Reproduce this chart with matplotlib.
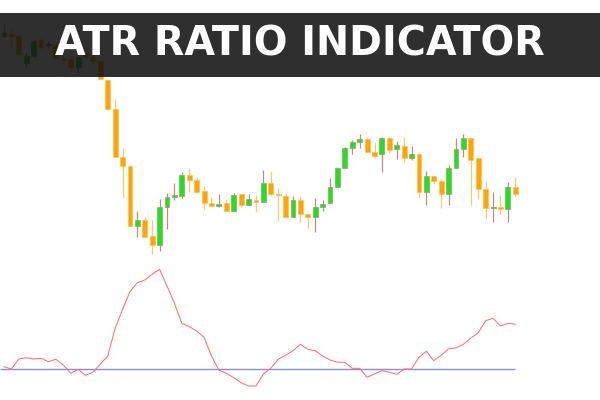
from __future__ import annotations

import matplotlib

matplotlib.use("Agg")
import matplotlib.pyplot as plt
from matplotlib.patches import Rectangle

TITLE = "ATR RATIO INDICATOR"

# OHLC of the 70 candles (arbitrary price points)
opens = [264, 266, 264, 237, 244, 260, 255, 255, 242, 241, 233, 247, 243, 239, 220, 191, 143, 134, 74, 80,
         64, 55, 93, 103, 104, 125, 120, 109, 97, 94, 97, 89, 106, 95, 100, 98, 117, 106, 104, 83,
         100, 86, 83, 93, 97, 113, 132, 152, 158, 161, 148, 146, 162, 151, 154, 142, 146, 108, 124, 119,
         106, 132, 151, 162, 142, 111, 92, 93, 91, 113]
highs = [276, 270, 265, 247, 260, 262, 259, 257, 246, 242, 243, 248, 245, 239, 221, 201, 152, 134, 89, 83,
         80, 101, 107, 117, 128, 132, 123, 114, 102, 106, 101, 107, 106, 106, 105, 130, 129, 112, 107, 104,
         104, 86, 102, 100, 122, 133, 153, 160, 166, 163, 158, 163, 163, 159, 163, 154, 147, 129, 124, 121,
         135, 162, 166, 162, 142, 119, 108, 105, 118, 123]
lows = [263, 252, 244, 232, 243, 251, 252, 241, 237, 228, 227, 242, 237, 220, 190, 143, 102, 74, 63, 63,
        46, 49, 71, 100, 102, 108, 107, 91, 93, 93, 89, 89, 93, 95, 88, 98, 105, 79, 82, 83,
        78, 72, 68, 89, 97, 113, 132, 146, 152, 148, 142, 128, 147, 141, 138, 140, 102, 95, 116, 92,
        95, 132, 143, 95, 101, 81, 78, 86, 78, 104]
closes = [267, 264, 246, 244, 259, 253, 256, 242, 240, 233, 243, 243, 239, 221, 191, 143, 134, 74, 80, 63,
          55, 93, 103, 105, 125, 120, 108, 97, 94, 96, 89, 105, 95, 101, 98, 117, 106, 105, 83, 100,
          86, 83, 93, 96, 113, 132, 152, 158, 161, 148, 144, 162, 150, 155, 142, 146, 108, 124, 119, 106,
          132, 151, 162, 140, 111, 92, 93, 91, 113, 106]

# ATR ratio per candle and its reference level
atr_ratio = [1.023, 1.000, 1.100, 1.113, 1.100, 1.107, 1.073, 1.097, 1.040, 0.957,
             0.997, 0.937, 0.967, 1.050, 1.130, 1.407, 1.597, 1.773, 1.863, 1.890,
             1.947, 1.997, 1.830, 1.657, 1.457, 1.423, 1.380, 1.317, 1.130, 0.990,
             0.957, 0.913, 0.863, 0.830, 0.830, 0.950, 1.007, 1.097, 1.137, 1.183,
             1.247, 1.197, 1.183, 1.130, 1.090, 1.067, 1.067, 1.007, 1.007, 0.917,
             0.950, 0.983, 0.967, 0.947, 1.000, 1.000, 1.117, 1.177, 1.083, 1.137,
             1.203, 1.210, 1.247, 1.310, 1.363, 1.483, 1.507, 1.430, 1.457, 1.447]
level = 1.0

BULL = "#18e818"
BEAR = "#ffa500"


def main() -> None:
    fig = plt.figure(figsize=(6, 4), dpi=100)

    # price panel (whole figure, no frame)
    ax = fig.add_axes([0, 0, 1, 1])
    ax.set_xlim(-0.54, 80.43)
    ax.set_ylim(-100, 300)
    ax.axis("off")

    w = 0.66
    for i, (o, h, l, c) in enumerate(zip(opens, highs, lows, closes)):
        up = c >= o
        wick = "#b89080" if up else "#ffc870"
        ax.vlines(i, l, h, color=wick, linewidth=0.9, zorder=2)
        lo, hi = min(o, c), max(o, c)
        ax.add_patch(Rectangle((i - w / 2, lo), w, max(hi - lo, 0.8),
                               facecolor=BULL if up else BEAR,
                               edgecolor="#b09080" if up else "#ffbe5a",
                               linewidth=0.5, zorder=3))

    # indicator panel, same frame
    ax2 = fig.add_axes([0, 0, 1, 1], sharex=ax)
    ax2.patch.set_alpha(0)
    ax2.set_ylim(0.69, 4.69)
    ax2.axis("off")
    n = len(atr_ratio)
    ax2.hlines(level, -0.6, n - 1, color="#8a8ae6", linewidth=1.0, zorder=2)
    ax2.plot(range(n), atr_ratio, color="#ff7070", linewidth=0.75, zorder=3)

    # title banner
    fig.patches.append(Rectangle((0, 1 - 77 / 400), 1, 64 / 400, transform=fig.transFigure,
                                 facecolor="#0c0c0c", alpha=0.86, zorder=10))
    fig.text(0.5, 1 - 44 / 400, TITLE, ha="center", va="center", color="white",
             fontsize=28.5, fontweight="bold", family="DejaVu Sans", zorder=11)

    fig.savefig("out.png", dpi=100)
    plt.close(fig)


if __name__ == "__main__":
    main()
